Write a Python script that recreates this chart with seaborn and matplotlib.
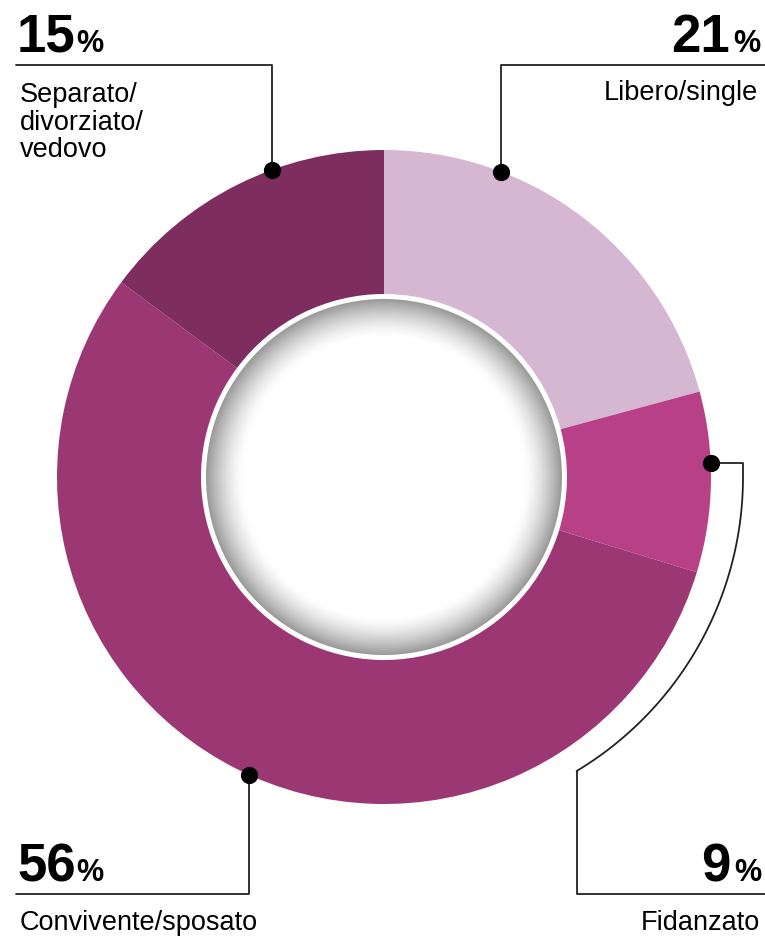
import numpy as np
import matplotlib
matplotlib.use("Agg")
import matplotlib.pyplot as plt
import seaborn as sns
from matplotlib.patches import Circle

# dati
categorie = ["Libero/single", "Fidanzato", "Convivente/sposato", "Separato/\ndivorziato/\nvedovo"]
valori = [21, 9, 56, 15]
colori = ["#d5b7d2", "#b74086", "#9b3874", "#7e2d5f"]

sns.set_theme(style="white")
plt.rcParams["font.family"] = ["Liberation Sans", "DejaVu Sans"]
plt.rcParams["text.color"] = "black"

W, H = 765, 936
fig = plt.figure(figsize=(W / 100, H / 100), dpi=100)
ax = fig.add_axes([0, 0, 1, 1])

def Y(py):
    # da coordinate pixel (y verso il basso) a coordinate dati
    return H - py

cx, cy = 384, Y(477)
R_est, R_int, R_grigio = 327, 183, 178

palette = sns.color_palette(colori)
ax.pie(valori, colors=palette, startangle=90, counterclock=False,
       radius=R_est, center=(cx, cy),
       wedgeprops=dict(width=R_est - R_int, edgecolor="none"))
ax.set_xlim(0, W)
ax.set_ylim(0, H)
ax.set_aspect("equal")
ax.axis("off")

# cerchio interno con sfumatura grigia
n = 500
g = np.linspace(-R_grigio, R_grigio, n)
xx, yy = np.meshgrid(g, g)
rr = np.sqrt(xx ** 2 + yy ** 2)
t = np.clip((rr - 140) / (R_grigio - 140), 0, 1)
img = 1 - 0.4 * t ** 1.5
im = ax.imshow(img, cmap="gray", vmin=0, vmax=1, interpolation="bilinear",
               extent=(cx - R_grigio, cx + R_grigio, cy - R_grigio, cy + R_grigio), zorder=3)
clip = Circle((cx, cy), R_grigio, transform=ax.transData)
im.set_clip_path(clip)

# linee guida e punti
col_linea = "#222222"
lw = 1.3

def punto_su_bordo_x(px, sopra=True):
    dx = px - cx
    dy = np.sqrt(R_est ** 2 - dx ** 2)
    return px, cy + dy if sopra else cy - dy

# Separato (alto sinistra)
x1, y1 = punto_su_bordo_x(272, True)
ax.plot([16, 272, 272], [Y(65), Y(65), y1], color=col_linea, lw=lw, zorder=4)
# Libero (alto destra)
x2, y2 = punto_su_bordo_x(501, True)
ax.plot([W, 501, 501], [Y(65), Y(65), y2], color=col_linea, lw=lw, zorder=4)
# Convivente (basso sinistra)
x3, y3 = punto_su_bordo_x(249, False)
ax.plot([16, 249, 249], [Y(894), Y(894), y3], color=col_linea, lw=lw, zorder=4)
# Fidanzato (destra, con arco)
y4 = Y(463)
x4 = cx + np.sqrt(R_est ** 2 - (y4 - cy) ** 2)
ac_x, ac_y, ac_r = 400, Y(477), 343
ang = np.radians(np.linspace(0, -59, 80))
arco_x = ac_x + ac_r * np.cos(ang)
arco_y = ac_y + ac_r * np.sin(ang)
fx = np.concatenate([[x4, 743], arco_x, [577, 577, W]])
fy = np.concatenate([[y4, y4], arco_y, [Y(772), Y(894), Y(894)]])
ax.plot(fx, fy, color=col_linea, lw=lw, zorder=4)

ax.scatter([x1, x2, x3, x4], [y1, y2, y3, y4], s=130, color="black", zorder=5)

# testi
renderer = fig.canvas.get_renderer()

def larghezza(txt):
    # 1 unita' dati = 1 pixel
    return txt.get_window_extent(renderer=renderer).width

def percentuale(x, y, v, ha):
    if ha == "left":
        t = ax.text(x, y, str(v), fontsize=38, fontweight="bold", ha="left", va="baseline")
        ax.text(x + larghezza(t) + 1, y, "%", fontsize=22, fontweight="bold", ha="left", va="baseline")
    else:
        p = ax.text(x, y, "%", fontsize=22, fontweight="bold", ha="right", va="baseline")
        ax.text(x - larghezza(p) - 3, y, str(v), fontsize=38, fontweight="bold", ha="right", va="baseline")

def etichetta(x, y, testo, ha):
    for i, riga in enumerate(testo.split("\n")):
        ax.text(x, y - i * 27.5, riga, fontsize=19.5, ha=ha, va="baseline")

# Separato
percentuale(17, Y(52), valori[3], "left")
etichetta(20, Y(102), categorie[3], "left")
# Libero
percentuale(760, Y(52), valori[0], "right")
etichetta(758, Y(100), categorie[0], "right")
# Convivente
percentuale(17, Y(881), valori[2], "left")
etichetta(20, Y(930), categorie[2], "left")
# Fidanzato
percentuale(761, Y(881), valori[1], "right")
etichetta(760, Y(930), categorie[1], "right")

fig.savefig("out.png", dpi=100)
